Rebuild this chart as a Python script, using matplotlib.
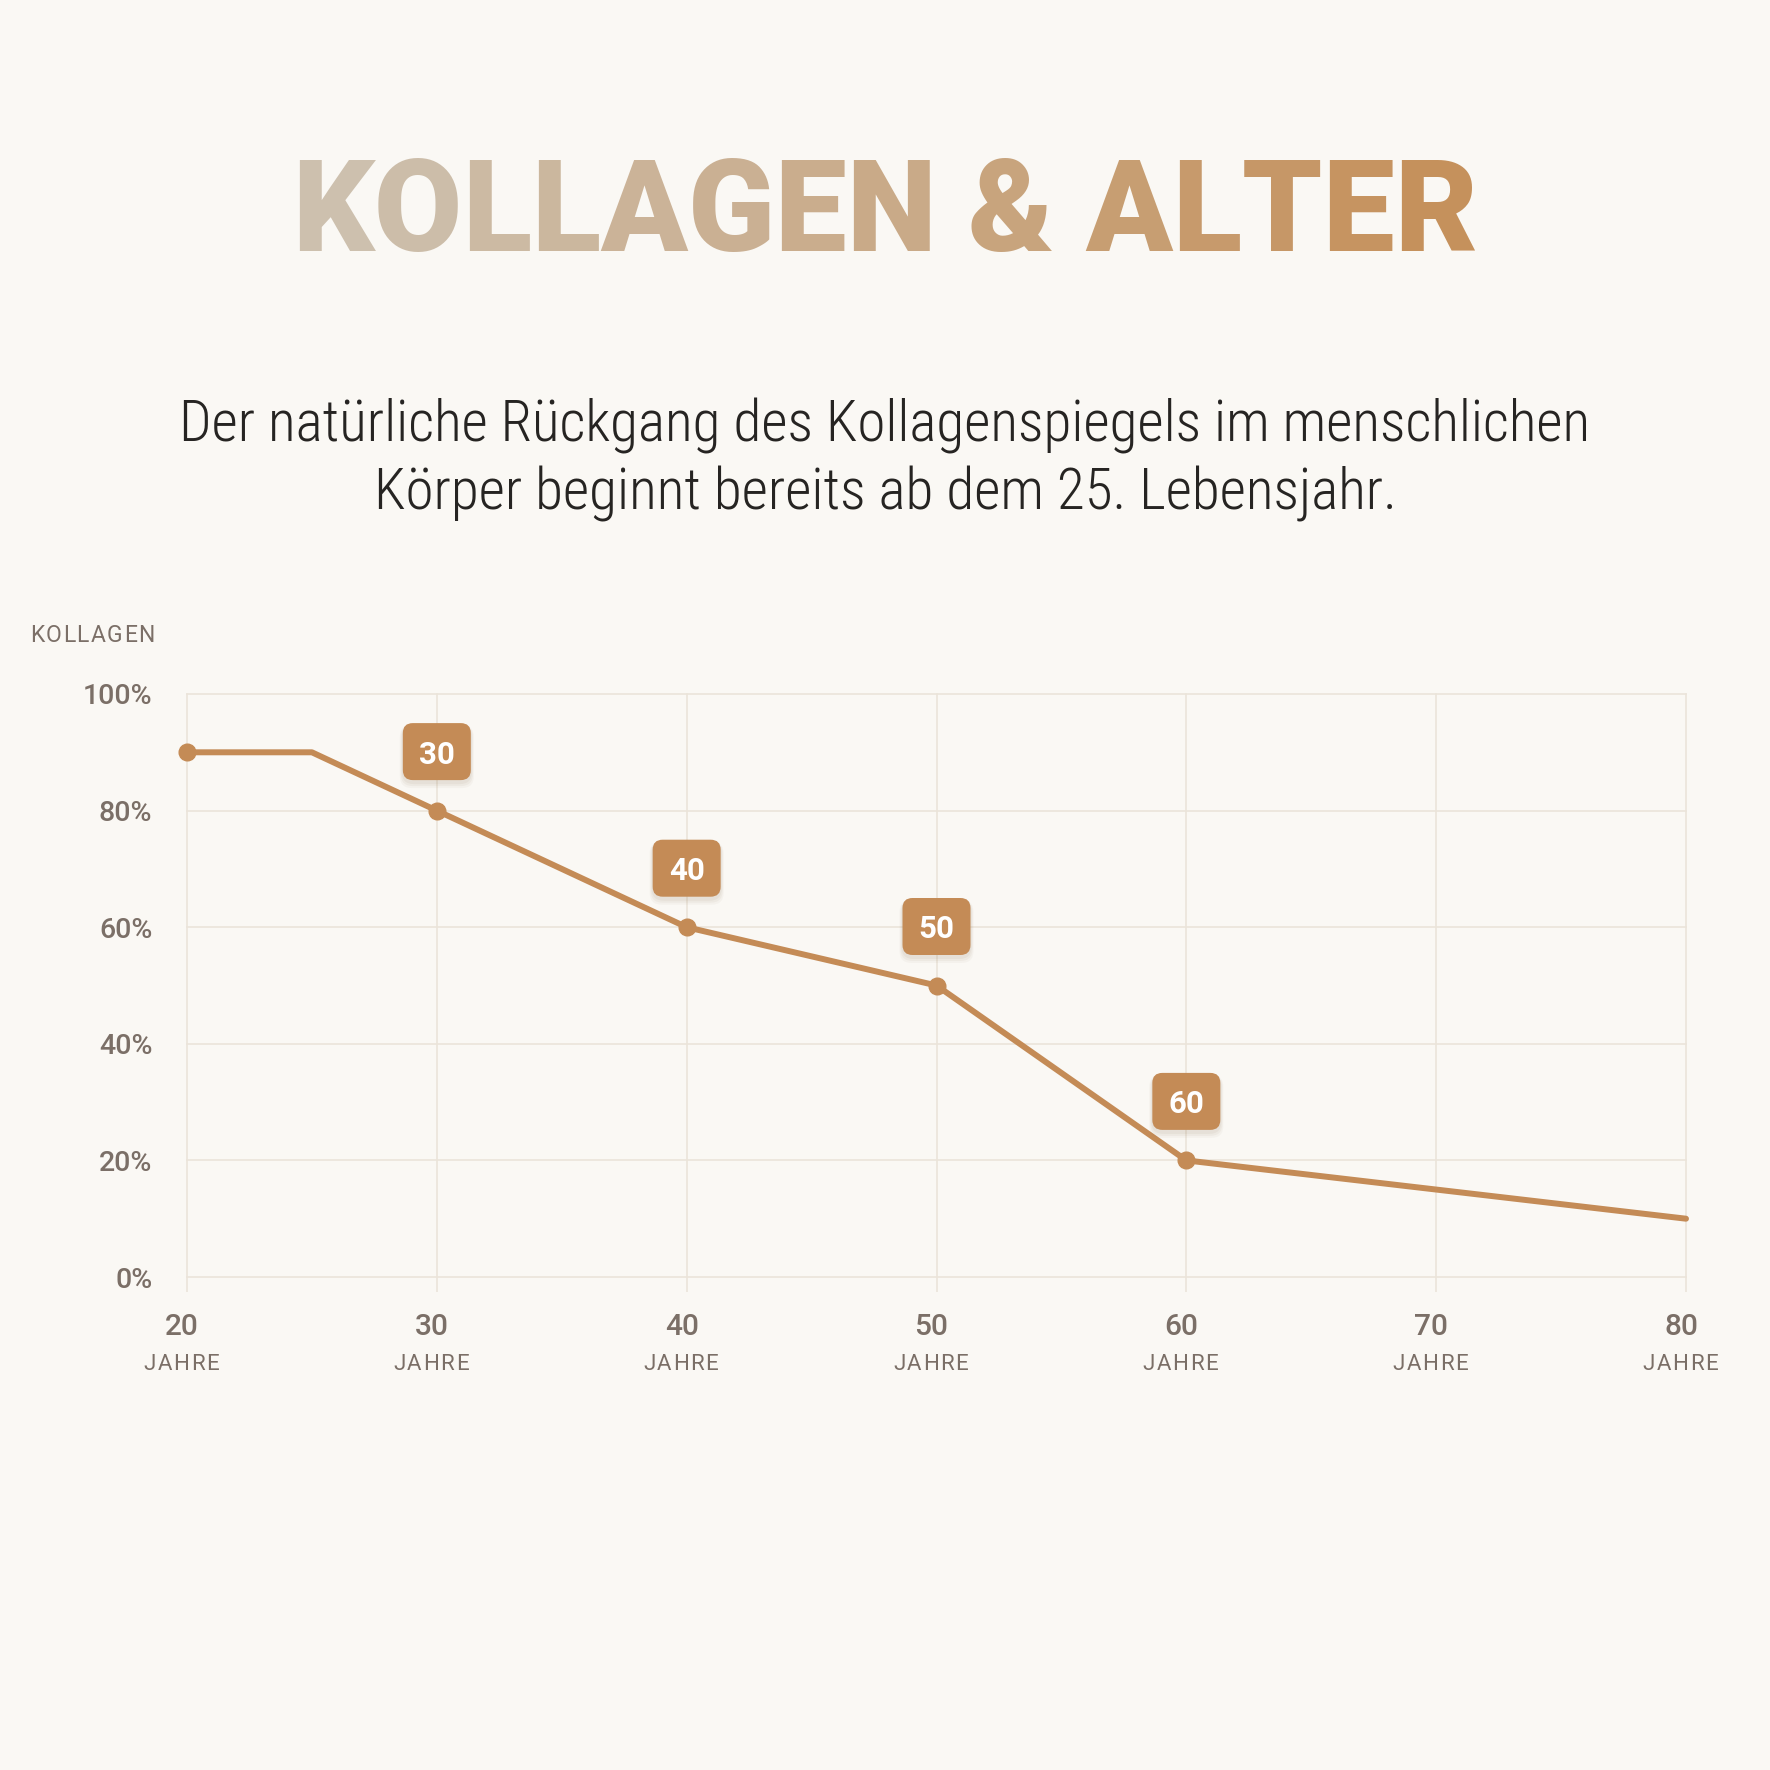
import matplotlib
matplotlib.use("Agg")
import matplotlib.pyplot as plt
import matplotlib.transforms as mtransforms
from matplotlib import font_manager as fm
from matplotlib.patches import FancyBboxPatch
import numpy as np

# ------------------ Data ------------------
ages = [20, 25, 30, 40, 50, 60, 70, 80]
collagen = [90, 90, 80, 60, 50, 20, 15, 10]
marker_ages = [20, 30, 40, 50, 60]
marker_vals = [90, 80, 60, 50, 20]
badge_ages = [30, 40, 50, 60]
badge_vals = [80, 60, 50, 20]
badge_labels = ["30", "40", "50", "60"]
x_ticks = [20, 30, 40, 50, 60, 70, 80]
y_ticks = [0, 20, 40, 60, 80, 100]
y_tick_labels = [f"{v}%" for v in y_ticks]

title = "KOLLAGEN & ALTER"
subtitle = ["Der natürliche Rückgang des Kollagenspiegels im menschlichen",
            "Körper beginnt bereits ab dem 25. Lebensjahr."]

# ------------------ Style ------------------
W = H = 1770
DPI = 100
BG = "#faf8f4"
GOLD = "#c48b56"
GRID = "#ebe4da"
MUTED = "#7b6f67"
TEXT = "#262422"
GRAD_L = np.array([0xcd, 0xc0, 0xae]) / 255
GRAD_R = np.array([0xc5, 0x91, 0x5c]) / 255


def fx(px):
    return px / W


def fy(py):
    return 1 - py / H


def pick(cands):
    have = {}
    for f in fm.fontManager.ttflist:
        have.setdefault(f.name, set()).add(f.weight)
    for name, wmin in cands:
        if name in have and max(have[name]) >= wmin:
            return name
    return "DejaVu Sans"


title_font = pick([("Roboto", 800), ("Lato", 800), ("Inter", 800),
                   ("Open Sans", 800), ("Roboto", 700)])
sub_font = pick([("Roboto Condensed", 0), ("Liberation Sans Narrow", 0),
                 ("Open Sans Condensed", 0), ("Roboto", 0)])
num_font = pick([("Roboto", 0), ("Inter", 0), ("Noto Sans", 0)])


def advances(text, fp, size):
    font = fm.get_font(fm.findfont(fp))
    font.set_size(size, DPI)
    return [font.load_char(ord(c)).linearHoriAdvance / 65536 for c in text]


def text_width(text, fp, size):
    fig_tmp = plt.figure(dpi=DPI)
    r = fig_tmp.canvas.get_renderer()
    t = fig_tmp.text(0, 0, text, fontproperties=fp, fontsize=size)
    w = t.get_window_extent(r).width
    plt.close(fig_tmp)
    return w


def tracked(target, text, fp, size, x0, y0, track, transform, center=True, **kw):
    """Draws text letter by letter with extra spacing (pixels)."""
    adv = advances(text, fp, size)
    total = sum(adv) + track * (len(text) - 1)
    x = x0 - total / 2 if center else x0
    for ch, a in zip(text, adv):
        target.text(x, y0, ch, fontproperties=fp, fontsize=size,
                    transform=transform, ha="left", va="center", **kw)
        x += a + track


fig = plt.figure(figsize=(W / DPI, H / DPI), dpi=DPI, facecolor=BG)

# ------------------ Title (letter gradient) ------------------
tfp = fm.FontProperties(family=title_font, weight=900)
base = 100
total = sum(advances(title, tfp, base))
tsize = base * 1185 / total
adv = advances(title, tfp, tsize)
x = 296 - 4
n = len(title)
for i, (ch, a) in enumerate(zip(title, adv)):
    t = i / (n - 1)
    col = GRAD_L * (1 - t) + GRAD_R * t
    fig.text(fx(x), fy(251), ch, fontproperties=tfp, fontsize=tsize,
             color=col, ha="left", va="baseline")
    x += a

# ------------------ Subtitle ------------------
sfp = fm.FontProperties(family=sub_font, weight="light")
ssize = 40 * 1414 / text_width(subtitle[0], sfp, 40)
ssize = min(ssize, 42)
for line, base_y in zip(subtitle, [441, 509]):
    fig.text(fx(885), fy(base_y), line, fontproperties=sfp, fontsize=ssize,
             color=TEXT, ha="center", va="baseline")

# ------------------ Chart ------------------
ax = fig.add_axes([fx(187), fy(1277), fx(1686) - fx(187), fy(694) - fy(1277)])
ax.set_facecolor(BG)
ax.set_xlim(20, 80)
ax.set_ylim(0, 100)
for s in ax.spines.values():
    s.set_visible(False)

ax.set_yticks(y_ticks)
ax.set_yticklabels(y_tick_labels)
ax.set_xticks(x_ticks)
ax.set_xticklabels([])
ax.tick_params(axis="y", length=0, pad=25, labelsize=20.5, labelcolor=MUTED)
ax.tick_params(axis="x", length=11, width=1.2, color=GRID)
for lab in ax.get_yticklabels():
    lab.set_fontfamily(num_font)
    lab.set_fontweight("medium")
ax.grid(True, color=GRID, lw=1.2)
for gl in ax.get_xgridlines() + ax.get_ygridlines():
    gl.set_clip_on(False)
ax.set_axisbelow(True)

ax.plot(ages, collagen, color=GOLD, lw=4.3, solid_joinstyle="round",
        solid_capstyle="round", zorder=3, clip_on=False)
ax.plot(marker_ages, marker_vals, "o", ms=12, color=GOLD, zorder=4, clip_on=False)

lab_fp = fm.FontProperties(family=num_font, weight="normal")
for xa in x_ticks:
    ax.annotate(str(xa), (xa, 0), xytext=(-5, -50), textcoords="offset pixels",
                ha="center", va="center", fontsize=21.5, color=MUTED,
                family=num_font, weight="medium", annotation_clip=False)
    tr = mtransforms.Affine2D() + mtransforms.ScaledTranslation(xa, 0, ax.transData)
    tracked(ax, "JAHRE", lab_fp, 16, -6, -88, 1.5, tr, color=MUTED, clip_on=False)

tracked(fig, "KOLLAGEN", lab_fp, 16.5, 30, H - 636, 1.4,
        mtransforms.IdentityTransform(), center=False, color=MUTED)

# badges above points
bw, bh, off = 68, 57, 59
for xa, ya, lab in zip(badge_ages, badge_vals, badge_labels):
    tr = mtransforms.Affine2D() + mtransforms.ScaledTranslation(xa, ya, ax.transData)
    for k, alpha in [(6, 0.04), (4, 0.05), (2, 0.06)]:
        sh = FancyBboxPatch((-bw / 2 - k / 2, off - bh / 2 - k - 2), bw + k, bh + k,
                            boxstyle="round,pad=0,rounding_size=12",
                            fc="#7a5a3a", ec="none", alpha=alpha,
                            transform=tr, zorder=4.5, clip_on=False)
        ax.add_patch(sh)
    box = FancyBboxPatch((-bw / 2, off - bh / 2), bw, bh,
                         boxstyle="round,pad=0,rounding_size=10",
                         fc=GOLD, ec="none", transform=tr, zorder=5, clip_on=False)
    ax.add_patch(box)
    ax.text(0, off, lab, transform=tr, ha="center", va="center_baseline",
            fontsize=22.5, color="white", family=num_font, weight="bold",
            zorder=6, clip_on=False)

fig.savefig("out.png", dpi=DPI, facecolor=BG)
